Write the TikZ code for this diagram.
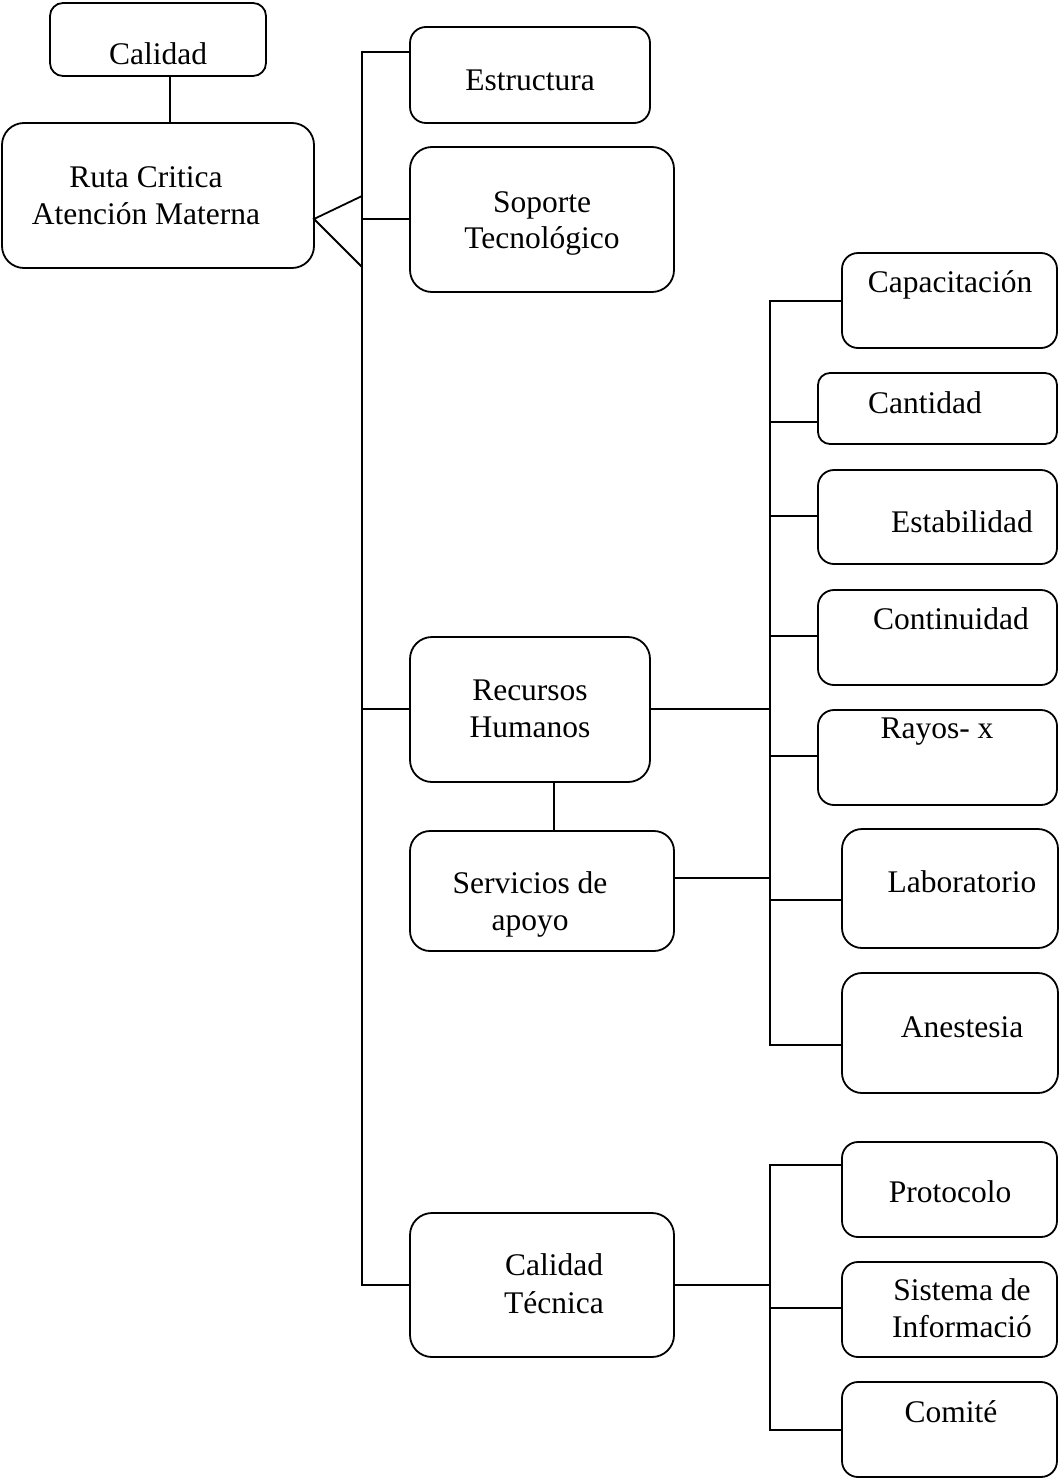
\documentclass[tikz,border=0pt]{standalone}
\usepackage{fontspec}
\setmainfont{Liberation Serif}
\usetikzlibrary{calc}
\tikzset{
  bx/.style={draw=black, line width=1.8pt, inner sep=0pt, outer sep=0pt, fill=white},
  txt/.style={font=\fontsize{31.5pt}{37pt}\selectfont, inner sep=0pt, anchor=base},
  conn/.style={draw=black, line width=1.8pt}
}
\newcommand\mybox[6]{\node[bx,rounded corners=#6pt,minimum width={#4pt-#2pt},minimum height={#5pt-#3pt}] (#1) at ({(#2+#4)/2},{(#3+#5)/2}) {};}
\newcommand\mytx[4]{\node[txt] (#1) at (#2,#3) {#4};}
\begin{document}
\begin{tikzpicture}[x=1pt,y=-1pt]
\useasboundingbox[fill=white] (0,0) rectangle (1062,1480);
% boxes
\mybox{cal}{50}{3}{266}{76}{13}
\mybox{ruta}{2}{123}{314}{268}{22}
\mybox{estr}{410}{27}{650}{123}{16}
\mybox{sop}{410}{147}{674}{292}{22}
\mybox{rh}{410}{637}{650}{782}{22}
\mybox{serv}{410}{831}{674}{951}{20}
\mybox{ct}{410}{1213}{674}{1357}{22}
\mybox{capa}{842}{253}{1057}{348}{16}
\mybox{cant}{818}{373}{1057}{444}{12}
\mybox{esta}{818}{470}{1057}{564}{16}
\mybox{cont}{818}{590}{1057}{685}{16}
\mybox{rayo}{818}{710}{1057}{805}{16}
\mybox{lab}{842}{829}{1058}{948}{20}
\mybox{anes}{842}{973}{1058}{1093}{20}
\mybox{prot}{842}{1142}{1057}{1237}{16}
\mybox{sist}{842}{1262}{1057}{1357}{16}
\mybox{com}{842}{1382}{1057}{1477}{16}
% texts
\mytx{tcal}{158}{65}{Calidad}
\mytx{truta1}{146}{187}{Ruta Critica}
\mytx{truta2}{146}{224}{Atención Materna}
\mytx{testr}{530}{90}{Estructura}
\mytx{tsop1}{542}{212}{Soporte}
\mytx{tsop2}{542}{248}{Tecnológico}
\mytx{trh1}{530}{700}{Recursos}
\mytx{trh2}{530}{737}{Humanos}
\mytx{tserv1}{530}{893}{Servicios de}
\mytx{tserv2}{530}{930}{apoyo}
\mytx{tct1}{554}{1275}{Calidad}
\mytx{tct2}{554}{1313}{Técnica}
\mytx{tcapa}{950}{292}{Capacitación}
\mytx{tcant}{925}{413}{Cantidad}
\mytx{testa}{962}{532}{Estabilidad}
\mytx{tcont}{951}{629}{Continuidad}
\mytx{trayo}{937}{738}{Rayos- x}
\mytx{tlab}{962}{892}{Laboratorio}
\mytx{tanes}{962}{1037}{Anestesia}
\mytx{tprot}{950}{1202}{Protocolo}
\mytx{tsist1}{962}{1300}{Sistema de}
\mytx{tsist2}{962}{1337}{Informació}
\mytx{tcom}{951}{1422}{Comité}
% connector coordinates
\coordinate (apex) at (314,219);
\coordinate (t1) at (362,52);
\coordinate (tu) at (362,196);
\coordinate (tl) at (362,267);
\coordinate (t2) at (362,1285);
\coordinate (ysop) at (362,219);
\coordinate (yrh) at (362,709);
\coordinate (v2a) at (770,301);
\coordinate (v2b) at (770,1045);
\coordinate (v3a) at (770,1165);
\coordinate (v3b) at (770,1430);
\coordinate (yrhr) at (770,709);
\coordinate (ycant) at (770,422);
\coordinate (yesta) at (770,516);
\coordinate (ycont) at (770,636);
\coordinate (yrayo) at (770,756);
\coordinate (yserv) at (770,878);
\coordinate (ylab) at (770,900);
\coordinate (yct) at (770,1285);
\coordinate (ysist) at (770,1308);
\coordinate (xrs) at (554,800);
% connectors
\draw[conn] ([xshift=12pt]cal.south) -- ([xshift=12pt]ruta.north);
\draw[conn] (tu) -- (apex) -- (tl);
\draw[conn] (t1 -| estr.west) -- (t1) -- (t2) -- (ct.west);
\draw[conn] (ysop -| sop.west) -- (ysop);
\draw[conn] (yrh -| rh.west) -- (yrh);
\draw[conn] (rh.south -| xrs) -- (serv.north -| xrs);
\draw[conn] (capa.west |- v2a) -- (v2a) -- (v2b) -- (anes.west |- v2b);
\draw[conn] (yrhr -| rh.east) -- (yrhr);
\draw[conn] (ycant) -- (ycant -| cant.west);
\draw[conn] (yesta) -- (yesta -| esta.west);
\draw[conn] (ycont) -- (ycont -| cont.west);
\draw[conn] (yrayo) -- (yrayo -| rayo.west);
\draw[conn] (yserv -| serv.east) -- (yserv);
\draw[conn] (ylab) -- (ylab -| lab.west);
\draw[conn] (prot.west |- v3a) -- (v3a) -- (v3b) -- (com.west |- v3b);
\draw[conn] (yct -| ct.east) -- (yct);
\draw[conn] (ysist) -- (ysist -| sist.west);
\end{tikzpicture}
\end{document}
